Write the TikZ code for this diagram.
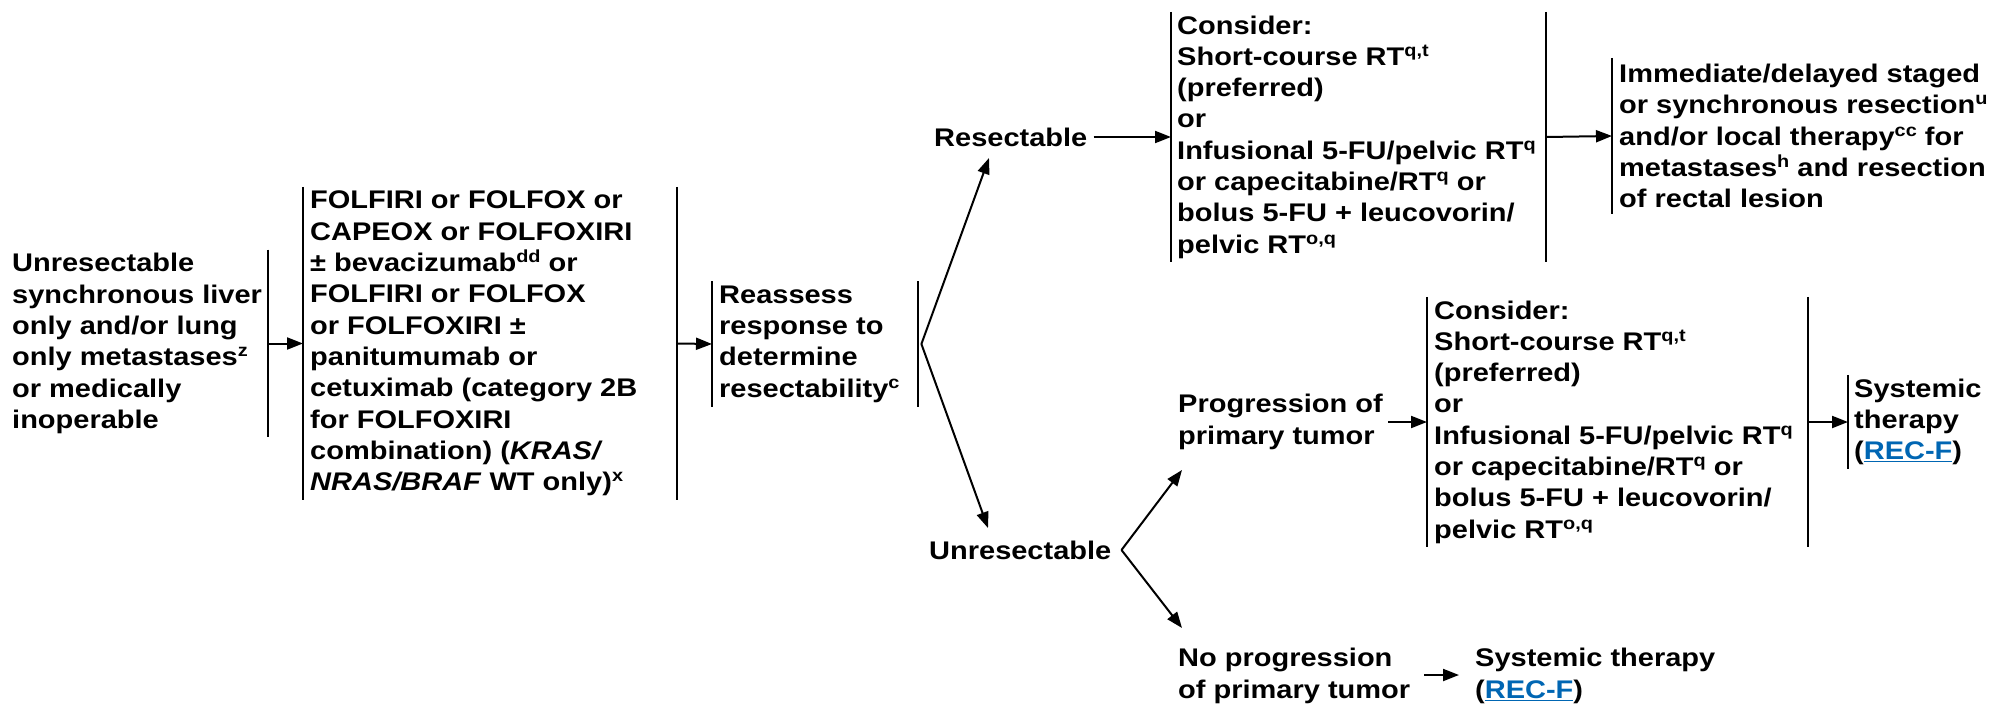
\documentclass[tikz,border=0pt]{standalone}
\usepackage{fontspec}
\setmainfont{Liberation Sans}[FakeStretch=1.137]
\usetikzlibrary{arrows.meta}
\definecolor{linkblue}{RGB}{0,102,179}
\newcommand{\lnk}[1]{{\color{linkblue}\underline{#1}}}
\newcommand{\spr}[1]{\raisebox{9pt}{\fontsize{17.5}{17.5}\selectfont #1}}
\begin{document}
\begin{tikzpicture}[x=1pt,y=-1pt,
  every node/.style={font=\fontsize{25.5}{31.3}\selectfont\bfseries},
  txt/.style={align=left, inner sep=0pt, anchor=west},
  frame/.style={inner sep=0pt, anchor=west, draw=none},
  bar/.style={line width=2pt},
  arr/.style={line width=2pt, -{Triangle[length=16pt,width=12pt]}}
]
\useasboundingbox (0,0) rectangle (1997,706);

% ---- frames (boxes marked by vertical bars)
\node[frame, minimum width=258pt, minimum height=187.5pt] (B1) at (10,343.5) {};
\node[frame, minimum width=374pt, minimum height=313pt]   (B2) at (303,343.5) {};
\node[frame, minimum width=206pt, minimum height=125pt]   (B3) at (712,344) {};
\node[frame, minimum width=375pt, minimum height=250pt]   (C1) at (1171,137) {};
\node[frame, minimum width=380pt, minimum height=156pt]   (IM) at (1612,136) {};
\node[frame, minimum width=381pt, minimum height=250pt]   (C2) at (1427,422) {};
\node[frame, minimum width=140pt, minimum height=94pt]    (SY) at (1848,422) {};

% ---- texts
\node[txt] (B1t) at ([xshift=2pt]B1.west) {Unresectable\\synchronous liver\\only and/or lung\\only metastases\spr{z}\\or medically\\inoperable};
\node[txt] (B2t) at ([xshift=7pt]B2.west) {FOLFIRI or FOLFOX or\\CAPEOX or FOLFOXIRI\\± bevacizumab\spr{dd} or\\FOLFIRI or FOLFOX\\or FOLFOXIRI ±\\panitumumab or\\cetuximab (category 2B\\for FOLFOXIRI\\combination) (\textit{KRAS/}\\\textit{NRAS/BRAF} WT only)\spr{x}};
\node[txt] (B3t) at ([xshift=7pt]B3.west) {Reassess\\response to\\determine\\resectability\spr{c}};
\node[txt] (C1t) at ([xshift=6pt]C1.west) {Consider:\\Short-course RT\spr{q,t}\\(preferred)\\or\\Infusional 5-FU/pelvic RT\spr{q}\\or capecitabine/RT\spr{q} or\\bolus 5-FU + leucovorin/\\pelvic RT\spr{o,q}};
\node[txt] (IMt) at ([xshift=7pt]IM.west) {Immediate/delayed staged\\or synchronous resection\spr{u}\\and/or local therapy\spr{cc} for\\metastases\spr{h} and resection\\of rectal lesion};
\node[txt] (C2t) at ([xshift=7pt]C2.west) {Consider:\\Short-course RT\spr{q,t}\\(preferred)\\or\\Infusional 5-FU/pelvic RT\spr{q}\\or capecitabine/RT\spr{q} or\\bolus 5-FU + leucovorin/\\pelvic RT\spr{o,q}};
\node[txt] (SYt) at ([xshift=6pt]SY.west) {Systemic\\therapy\\(\lnk{REC-F})};

\node[txt] (res) at (934,137) {Resectable};
\node[txt] (unr) at (929,550) {Unresectable};
\node[txt] (prog) at (1178,422) {Progression of\\primary tumor};
\node[txt] (noprog) at (1178,676) {No progression\\of primary tumor};
\node[txt] (sys2) at (1475,676) {Systemic therapy\\(\lnk{REC-F})};

% ---- bars
\draw[bar] (B1.north east) -- (B1.south east);
\draw[bar] (B2.north west) -- (B2.south west);
\draw[bar] (B2.north east) -- (B2.south east);
\draw[bar] (B3.north west) -- (B3.south west);
\draw[bar] (B3.north east) -- (B3.south east);
\draw[bar] (C1.north west) -- (C1.south west);
\draw[bar] (C1.north east) -- (C1.south east);
\draw[bar] (IM.north west) -- (IM.south west);
\draw[bar] (C2.north west) -- (C2.south west);
\draw[bar] (C2.north east) -- (C2.south east);
\draw[bar] (SY.north west) -- (SY.south west);

% ---- connectors
\coordinate (v1) at ([xshift=3pt]B3.east);
\coordinate (rtip) at (989,158);
\coordinate (utip) at (988,528);
\coordinate (v2) at ([xshift=10pt]unr.east);
\coordinate (ptip) at (1182,470);
\coordinate (ntip) at (1182,628);

\draw[arr] (B1.east) -- (B2.west);
\draw[arr] (B2.east) -- (B3.west);
\draw[arr] (v1) -- (rtip);
\draw[arr] (v1) -- (utip);
\draw[arr] ([xshift=6pt]res.east) -- (C1.west);
\draw[arr] (C1.east) -- (IM.west);
\draw[arr] (v2) -- (ptip);
\draw[arr] (v2) -- (ntip);
\draw[arr] ([xshift=5pt]prog.east) -- (C2.west);
\draw[arr] (C2.east) -- (SY.west);
\draw[arr] ([xshift=14pt]noprog.east |- 675,675) -- ([xshift=-16pt]sys2.west |- 675,675);
\end{tikzpicture}
\end{document}
